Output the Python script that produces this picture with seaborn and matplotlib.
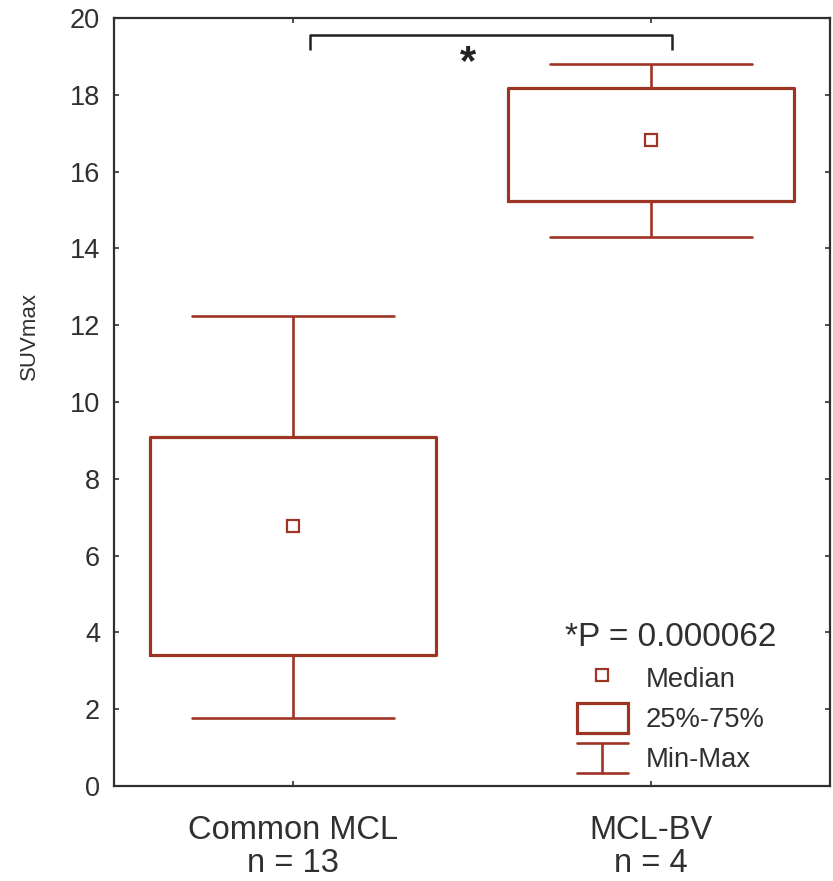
import matplotlib
matplotlib.use("Agg")
import matplotlib.pyplot as plt
import pandas as pd
import seaborn as sns
from matplotlib.lines import Line2D
from matplotlib.patches import Patch
from matplotlib.legend_handler import HandlerBase

# ---- data: five-number summaries of SUVmax per group ----
groups = ["Common MCL", "MCL-BV"]
group_sizes = [13, 4]
suv_min = [1.77, 14.30]
suv_q1 = [3.41, 15.23]
suv_median = [6.77, 16.82]
suv_q3 = [9.09, 18.18]
suv_max = [12.24, 18.80]
p_value = "0.000062"
y_ticks = list(range(0, 21, 2))

RED = "#9E3424"
INK = "#303030"

# Five values per group: with linear interpolation the 25/50/75 percentiles
# of [min, q1, median, q3, max] are exactly q1, median and q3.
rows = []
for g, lo, q1, med, q3, hi in zip(groups, suv_min, suv_q1, suv_median, suv_q3, suv_max):
    for v in (lo, q1, med, q3, hi):
        rows.append({"group": g, "SUVmax": v})
df = pd.DataFrame(rows)

sns.set_style("ticks")
plt.rcParams["font.family"] = ["Liberation Sans", "DejaVu Sans"]

fig = plt.figure(figsize=(8.33, 8.81), dpi=100)
ax = fig.add_axes([114 / 833, 1 - 786 / 881, 716 / 833, 768 / 881])

sns.boxplot(
    data=df, x="group", y="SUVmax", order=groups, ax=ax,
    fill=False, color=RED, linecolor=RED, width=0.8, whis=(0, 100),
    showfliers=False, capwidths=0.565,
    boxprops={"linewidth": 2.3, "color": RED},
    whiskerprops={"linewidth": 1.9, "color": RED},
    capprops={"linewidth": 1.9, "color": RED},
    medianprops={"visible": False},
)

# medians as small open squares
sns.pointplot(
    x=groups, y=suv_median, order=groups, ax=ax, color=RED,
    linestyles="none", markers="s", errorbar=None,
    markersize=8, markeredgewidth=1.6, markerfacecolor="white",
)

ax.set_xlim(-0.5, 1.5)
ax.set_ylim(0, 20)
ax.set_yticks(y_ticks)
ax.set_yticklabels([str(t) for t in y_ticks], fontsize=19.5, color=INK)
ax.set_xticks(range(len(groups)))
ax.set_xticklabels([f"{g}\nn = {n}" for g, n in zip(groups, group_sizes)],
                   fontsize=23.5, color=INK, linespacing=1.07)
ax.set_xlabel("")
ax.set_ylabel("SUVmax", fontsize=16, color=INK)
ax.yaxis.set_label_coords(-0.103, 0.586)

for s in ax.spines.values():
    s.set_visible(True)
    s.set_color(INK)
    s.set_linewidth(1.6)
ax.tick_params(direction="in", length=3.5, width=1.2, color=INK,
               top=True, right=True, labeltop=False, labelright=False)
ax.tick_params(axis="y", pad=10)
ax.tick_params(axis="x", pad=21)

# significance bracket
bx0, bx1 = 0.047, 1.058
by, drop = 19.56, 0.40
ax.plot([bx0, bx0, bx1, bx1], [by - drop, by, by, by - drop],
        color="#222222", lw=1.8, solid_capstyle="butt", clip_on=False)
ax.text((bx0 + bx1) / 2 - 0.065, 18.82, "*", ha="center", va="center",
        fontsize=30, color="#222222", fontweight="bold")


class MinMaxHandler(HandlerBase):
    def create_artists(self, legend, orig_handle, xdescent, ydescent,
                       width, height, fontsize, trans):
        x0, x1 = -xdescent, -xdescent + width
        y0, y1 = -ydescent - 0.02 * height, -ydescent + 1.0 * height
        xm = (x0 + x1) / 2
        kw = dict(color=RED, lw=1.9, transform=trans)
        return [Line2D([x0, x1], [y1, y1], **kw),
                Line2D([x0, x1], [y0, y0], **kw),
                Line2D([xm, xm], [y0, y1], **kw)]


median_handle = Line2D([], [], ls="none", marker="s", ms=8, mew=1.6,
                       mec=RED, mfc="white")
box_handle = Patch(facecolor="white", edgecolor=RED, linewidth=2.3)
minmax_handle = Line2D([], [])

leg = ax.legend(
    [median_handle, box_handle, minmax_handle],
    ["Median", "25%-75%", "Min-Max"],
    handler_map={minmax_handle: MinMaxHandler()},
    title=f"*P = {p_value}", title_fontsize=24, fontsize=19.7,
    loc="lower left", bbox_to_anchor=(0.630, 0.017), frameon=False,
    handlelength=1.85, handleheight=1.3, handletextpad=0.65,
    labelspacing=0.36, borderpad=0, borderaxespad=0,
)
leg.get_title().set_color(INK)
for t in leg.get_texts():
    t.set_color(INK)

fig.savefig("out.png", dpi=100, facecolor="white")
